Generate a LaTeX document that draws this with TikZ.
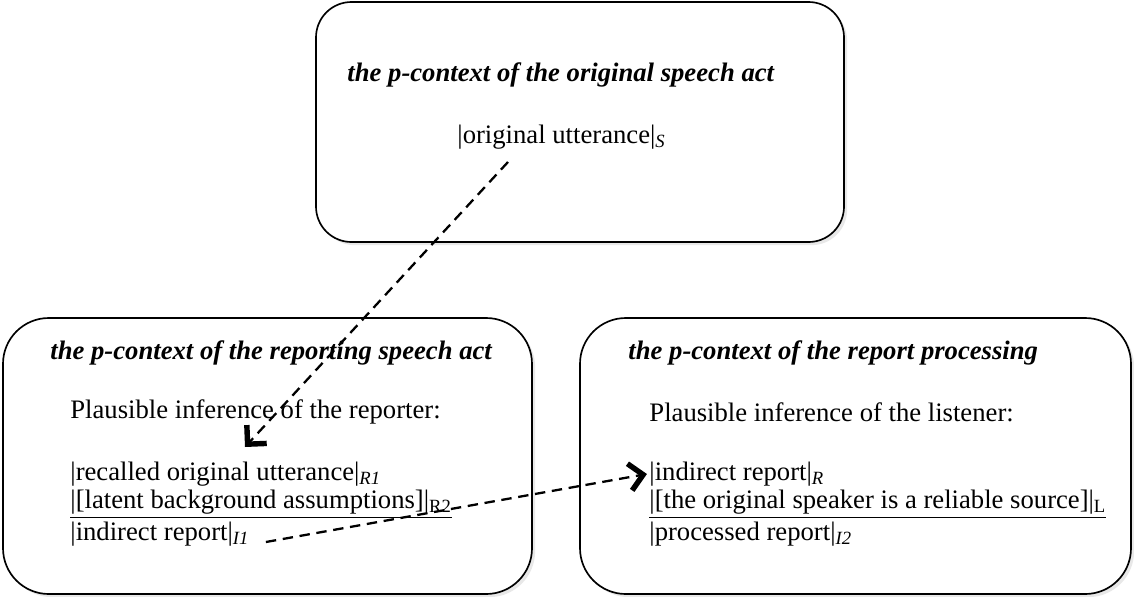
\documentclass[tikz,border=0pt]{standalone}
\usepackage{fontspec}
\setmainfont{Liberation Serif}
\usetikzlibrary{calc,arrows.meta,shadows}

\tikzset{
  ctxbox/.style={line width=0.8pt, fill=white,
    drop shadow={shadow xshift=1.5pt, shadow yshift=-1.5pt, opacity=0.18}},
  ctxtitle/.style={anchor=west, inner sep=0pt, font=\fontsize{12.8}{15}\selectfont\bfseries\itshape},
  ctxline/.style={anchor=west, inner sep=0pt, font=\fontsize{12.8}{15}\selectfont},
  infer/.style={line width=1.1pt, dash pattern=on 5pt off 3.2pt,
    -{Straight Barb[length=6.5pt,width=13pt,line width=2.6pt]}}
}
\newcommand{\lab}[1]{\textsubscript{\textit{#1}}}

\begin{document}
\begin{tikzpicture}[x=0.48pt, y=-0.48pt]
		%%%%% START %%%%%
		\useasboundingbox (0,0) rectangle (1134,596);
		
		\draw[ctxbox, rounded corners=17pt] (316,2) rectangle (844,242);
		\draw[ctxbox, rounded corners=22pt] (3,318) rectangle (532,594);
		\draw[ctxbox, rounded corners=22pt] (580,318) rectangle (1131,594);
		
		\node[ctxtitle] (origtitle) at (347,75) {the p-context of the original speech act};
		\node[ctxline] (orig) at (457,137) {|original utterance|\lab{S}};
		
		\node[ctxtitle] (reptitle) at (50,353) {the p-context of the reporting speech act};
		\node[ctxline] (repinfer) at (70,412) {Plausible inference of the reporter:};
		\node[ctxline] (recalled) at (70,474) {|recalled original utterance|\lab{R1}};
		\node[ctxline] (latent) at (70,504) {\underline{|[latent background assumptions]|\textsubscript{R2}}};
		\node[ctxline] (indirA) at (70,534) {|indirect report|\lab{I1}};
		
		\node[ctxtitle] (proctitle) at (628,353) {the p-context of the report processing};
		\node[ctxline] (lisinfer) at (649,412) {Plausible inference of the listener:};
		\node[ctxline] (indirB) at (649,474) {|indirect report|\lab{R}};
		\node[ctxline] (reliable) at (649,504) {\underline{|[the original speaker is a reliable source]|\textsubscript{L}}};
		\node[ctxline] (processed) at (649,534) {|processed report|\lab{I2}};
		
		\coordinate (origfoot) at (508,162);
		\coordinate (recalltop) at (245,447);
		\coordinate (reportout) at ($(indirA.east)+(16,8)$);
		
		\draw[infer] (origfoot) -- (recalltop);
		\draw[infer] (reportout) -- ([xshift=-1pt]indirB.west);
		
		%%%%% END %%%%%
\end{tikzpicture}
\end{document}
